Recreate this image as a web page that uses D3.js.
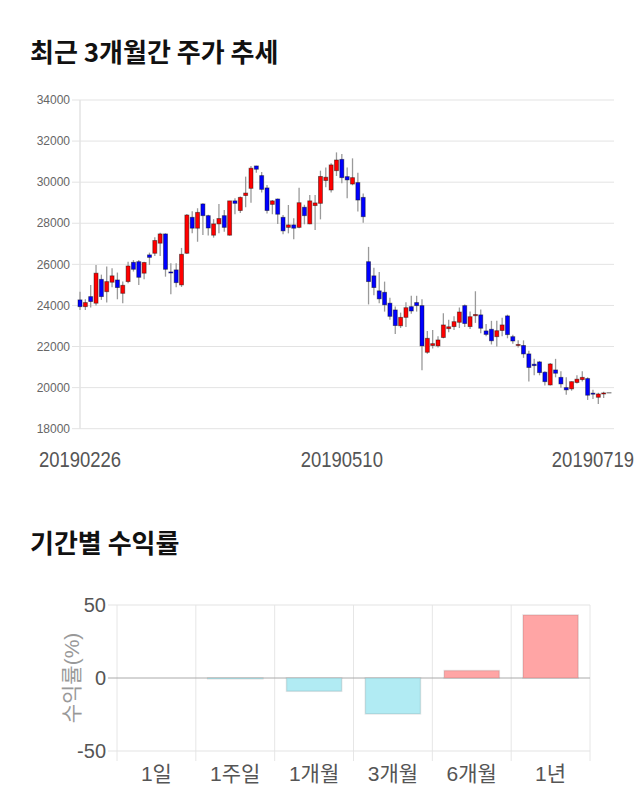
<!DOCTYPE html>
<html>
<head>
<meta charset="utf-8">
<script src="https://cdn.jsdelivr.net/npm/d3@7"></script>
<style>
  body { margin: 0; background: #fff; }
  svg { display: block; }
</style>
</head>
<body>
<div class="content"></div>
<script>
// daily candles, 20190226 .. 20190719
var opens  = [24270,23940,24430,24110,25270,24670,25130,25240,24590,25160,26100,26130,25570,26460,26540,27030,27480,25630,25730,25000,
              26540,28290,27760,28940,28370,27420,27970,28370,27420,29090,28620,29350,29700,30790,30320,29720,28920,29180,28290,27800,
              27920,27800,28780,27970,28860,28970,30080,29620,30560,31110,30270,29910,29980,29260,26130,25440,24710,24640,24110,23780,
              23010,23420,23940,24140,23990,21720,22050,22030,22440,22870,22970,23180,23990,22970,23500,23540,22760,22840,22480,22780,
              23490,22480,22050,22050,21640,21140,21250,20750,20130,20860,20500,20000,19940,20250,20390,20440,19730,19530,19690,19760];
var highs  = [24670,24300,25000,25970,25500,25890,25810,25600,25160,26130,26210,26210,26130,26570,27320,27540,27510,26050,26050,26800,
              28450,28580,28730,28970,28420,28200,28940,28650,29090,29220,29300,30270,30790,30800,30500,29860,29130,29200,28400,28890,
              28240,29730,28900,29380,29380,30560,30720,30920,31450,31370,30720,31160,30460,29450,26850,25830,25630,25160,24380,23950,
              23650,24150,24470,24470,24300,22750,22800,22500,23620,23300,23470,23900,24050,23700,24690,23800,23100,23250,23250,23400,
              23550,22570,22300,22300,21800,21400,21300,20800,21200,21400,20800,20500,20300,20600,20800,20500,19900,19750,19800,19780];
var lows   = [23780,23780,23900,24000,24270,24140,24880,24300,24110,25080,25650,25000,25270,25970,26410,26410,25400,24540,24880,24900,
              26500,27510,27100,27430,27400,27300,27510,27590,27400,28440,28500,28780,29000,30460,29500,28480,28440,27970,27460,27510,
              27220,27760,27950,27950,27670,28190,29750,29500,30300,29950,29220,29850,28570,28030,24050,24500,24110,23700,23300,22610,
              22900,22950,23600,23700,20850,21650,21900,21950,22400,22700,22800,22900,22950,22850,23150,22650,22500,22100,22000,22500,
              22400,22130,21950,21450,20300,20600,20600,20100,20100,20500,19990,19650,19850,20200,20300,19400,19450,19200,19500,19740];
var closes = [23940,24140,24190,25570,24430,25160,25440,24870,24980,25920,25760,25370,26090,26340,27160,27480,25760,25580,25110,26490,
              28400,27760,28530,28370,27770,27970,28230,27800,29090,28970,29260,29470,30680,30630,29650,28620,29090,28440,27630,27920,
              27760,29000,28370,29090,28990,30280,30240,30840,31080,30220,30110,30220,29130,28320,25160,24870,24320,24030,23470,23020,
              23420,23890,23730,23990,22030,22400,22140,22320,23050,22960,23210,23680,23120,23450,23560,22890,22590,22280,22770,23050,
              22580,22270,22100,21640,20980,21070,20730,20290,21150,20700,20180,19890,20290,20410,20500,19630,19680,19690,19740,19760];
var priceTicks = [18000,20000,22000,24000,26000,28000,30000,32000,34000];
var dateTickIdx = [0, 49, 99];
var dateTickLabels = ["20190226","20190510","20190719"];

// period returns (%)
var periods = ["1일","1주일","1개월","3개월","6개월","1년"];
var returns = [0, -0.6, -9.1, -24.6, 5.1, 43.2];
var returnTicks = [-50, 0, 50];

var svg = d3.select(".content").append("svg")
	.attr("width", 640)
	.attr("height", 810);

svg.append("rect").attr("width", 640).attr("height", 810).attr("fill", "#fff");

var titleFont = "'Noto Sans CJK KR', 'Noto Sans', sans-serif";

svg.append("text")
	.attr("x", 30).attr("y", 62)
	.attr("font-family", titleFont).attr("font-size", 26).attr("font-weight", 700)
	.attr("fill", "#111")
	.text("최근 3개월간 주가 추세");

svg.append("text")
	.attr("x", 30).attr("y", 553)
	.attr("font-family", titleFont).attr("font-size", 26).attr("font-weight", 700)
	.attr("fill", "#111")
	.text("기간별 수익률");

// ---------- candle chart ----------
var cx = d3.scalePoint().domain(d3.range(opens.length)).range([80, 609]);
var cy = d3.scaleLinear().domain([18000, 34000]).range([428.7, 100]);
var plotLeft = 80, plotRight = 614;

var gGrid = svg.append("g");
gGrid.selectAll("line.h")
	.data(priceTicks)
	.enter().append("line")
	.attr("class", "h")
	.attr("x1", plotLeft - 8).attr("x2", plotRight)
	.attr("y1", d => cy(d)).attr("y2", d => cy(d))
	.attr("stroke", "#e3e3e3").attr("stroke-width", 1);

gGrid.append("line")
	.attr("x1", plotLeft).attr("x2", plotLeft)
	.attr("y1", cy(34000)).attr("y2", cy(18000))
	.attr("stroke", "#e3e3e3").attr("stroke-width", 1.5);

gGrid.selectAll("text.ylab")
	.data(priceTicks)
	.enter().append("text")
	.attr("class", "ylab")
	.attr("x", 70).attr("y", d => cy(d))
	.attr("dy", "0.35em")
	.attr("text-anchor", "end")
	.attr("font-family", "'Liberation Sans', Arial, sans-serif")
	.attr("font-size", 12)
	.attr("fill", "#666")
	.text(d => d);

var candles = svg.append("g").selectAll("g")
	.data(d3.range(opens.length))
	.enter().append("g");

candles.append("line")
	.attr("x1", i => cx(i)).attr("x2", i => cx(i))
	.attr("y1", i => cy(highs[i])).attr("y2", i => cy(lows[i]))
	.attr("stroke", "#9a9a9a").attr("stroke-width", 1.3);

candles.append("rect")
	.attr("x", i => cx(i) - 2)
	.attr("width", 4)
	.attr("y", i => cy(Math.max(opens[i], closes[i])))
	.attr("height", i => Math.max(0.5, Math.abs(cy(opens[i]) - cy(closes[i]))))
	.attr("fill", i => closes[i] > opens[i] ? "#ff0000" : (closes[i] < opens[i] ? "#0000ff" : "#999"))
	.attr("stroke", i => closes[i] == opens[i] ? "#999" : "rgba(0,0,0,0.45)")
	.attr("stroke-width", 0.9);

// narrow digits, as in the reference: squeeze horizontally
var squeeze = 0.84;
svg.append("g").selectAll("text")
	.data(dateTickIdx)
	.enter().append("text")
	.attr("transform", (i, k) => {
		var x = k == dateTickIdx.length - 1 ? 634 : cx(i);
		return "translate(" + x + ",467) scale(" + squeeze + ",1)";
	})
	.attr("text-anchor", (i, k) => k == dateTickIdx.length - 1 ? "end" : "middle")
	.attr("font-family", "'Liberation Sans', Arial, sans-serif")
	.attr("font-size", 22)
	.attr("fill", "#555")
	.text((d, k) => dateTickLabels[k]);

// ---------- returns bar chart ----------
var bx = d3.scaleBand().domain(periods).range([117, 590]).paddingInner(0.3).paddingOuter(0.15);
var by = d3.scaleLinear().domain([-50, 50]).range([751, 605]);
var step = bx.step();

var gb = svg.append("g");

gb.selectAll("line.v")
	.data(d3.range(periods.length + 1))
	.enter().append("line")
	.attr("class", "v")
	.attr("x1", k => 117 + k * step).attr("x2", k => 117 + k * step)
	.attr("y1", by(50)).attr("y2", by(-50) + 10)
	.attr("stroke", "#e6e6e6").attr("stroke-width", 1);

gb.selectAll("line.h")
	.data(returnTicks)
	.enter().append("line")
	.attr("class", "h")
	.attr("x1", 108).attr("x2", 590)
	.attr("y1", d => by(d)).attr("y2", d => by(d))
	.attr("stroke", d => d == 0 ? "#aaa" : "#e3e3e3")
	.attr("stroke-width", 1);

gb.selectAll("rect")
	.data(periods)
	.enter().append("rect")
	.attr("x", (d, k) => bx(d))
	.attr("width", bx.bandwidth())
	.attr("y", (d, k) => by(Math.max(0, returns[k])))
	.attr("height", (d, k) => Math.abs(by(returns[k]) - by(0)))
	.attr("fill", (d, k) => returns[k] >= 0 ? "#ffa5a5" : "#b1ebf3")
	.attr("stroke", "rgba(0,0,0,0.1)")
	.attr("stroke-width", 1.5);

gb.selectAll("text.yl")
	.data(returnTicks)
	.enter().append("text")
	.attr("class", "yl")
	.attr("x", 106).attr("y", d => by(d))
	.attr("dy", "0.35em")
	.attr("text-anchor", "end")
	.attr("font-family", "'Liberation Sans', Arial, sans-serif")
	.attr("font-size", 20)
	.attr("fill", "#555")
	.text(d => d);

gb.selectAll("text.xl")
	.data(periods)
	.enter().append("text")
	.attr("class", "xl")
	.attr("x", d => bx(d) + bx.bandwidth() / 2)
	.attr("y", 781)
	.attr("text-anchor", "middle")
	.attr("font-family", "'Liberation Sans', 'Noto Sans CJK KR', sans-serif")
	.attr("font-size", 21)
	.attr("fill", "#555")
	.text(d => d);

gb.append("text")
	.attr("transform", "translate(79," + by(0) + ") rotate(-90)")
	.attr("text-anchor", "middle")
	.attr("font-family", "'Liberation Sans', 'Noto Sans CJK KR', sans-serif")
	.attr("font-size", 21)
	.attr("fill", "#999")
	.text("수익률(%)");
</script>
</body>
</html>
